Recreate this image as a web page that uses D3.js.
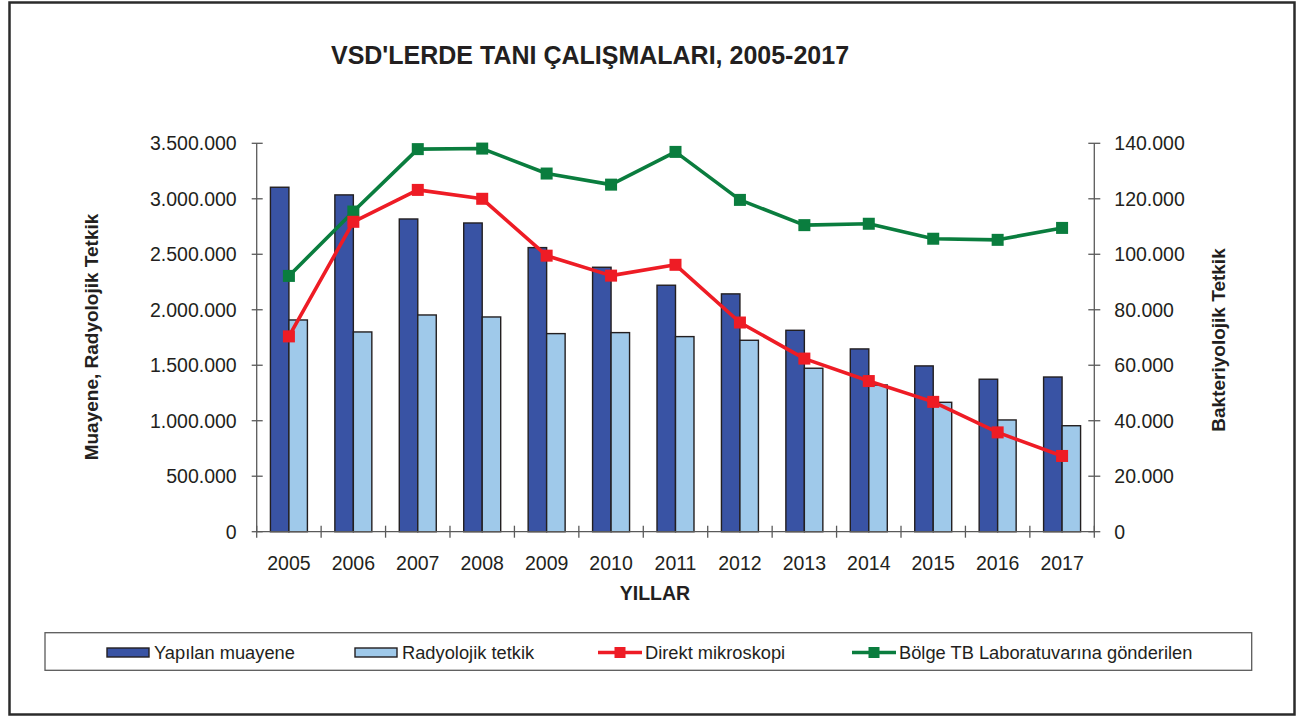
<!DOCTYPE html>
<html>
<head>
<meta charset="utf-8">
<script src="https://cdn.jsdelivr.net/npm/d3@7"></script>
<style>
  body { margin: 0; background: #fff; }
  text { font-family: "Liberation Sans", Arial, sans-serif; fill: #231f20; }
</style>
</head>
<body>
<div id="chart"></div>
<script>
// data
var years = ["2005", "2006", "2007", "2008", "2009", "2010", "2011", "2012", "2013", "2014", "2015", "2016", "2017"];
var muayene = [3104000, 3035000, 2818000, 2782000, 2560000, 2383000, 2221000, 2143000, 1815000, 1647000, 1494000, 1374000, 1394000];
var radyolojik = [1908000, 1800000, 1953000, 1935000, 1785000, 1794000, 1758000, 1725000, 1473000, 1322000, 1166000, 1007000, 955000];
var mikroskopi = [70400, 111700, 123200, 120000, 99500, 92300, 96200, 75400, 62400, 54300, 46800, 35800, 27300];
var bolge = [92200, 115400, 137900, 138100, 129100, 125100, 136900, 119600, 110500, 111000, 105600, 105200, 109500];

var leftTicks = [0, 500000, 1000000, 1500000, 2000000, 2500000, 3000000, 3500000];
var rightTicks = [0, 20000, 40000, 60000, 80000, 100000, 120000, 140000];

var barSeries = ["Yapılan muayene", "Radyolojik tetkik"];
var barColors = ["#3953a4", "#9fc9ea"];
var lineColors = { mikroskopi: "#ee1c25", bolge: "#0a7d3e" };

function fmt(v) {
    // 3500000 -> 3.500.000
    return String(v).replace(/\B(?=(\d{3})+(?!\d))/g, ".");
}

var W = 1302, H = 717;
// plot area (window.top is reserved, so other names)
var plotL = 256.7, plotR = 1094.3, plotT = 143.3, plotB = 531.7;

var svg = d3.select("#chart").append("svg")
    .attr("width", W)
    .attr("height", H);

svg.append("rect")
    .attr("x", 9.5).attr("y", 2.5)
    .attr("width", 1285).attr("height", 712)
    .attr("fill", "#fff")
    .attr("stroke", "#2b2b2b")
    .attr("stroke-width", 2.5);

svg.append("text")
    .attr("x", 590).attr("y", 64)
    .attr("text-anchor", "middle")
    .style("font-weight", "bold")
    .style("font-size", "25px")
    .text("VSD'LERDE TANI ÇALIŞMALARI, 2005-2017");

// scales
var x0 = d3.scaleBand()
    .domain(years)
    .range([plotL, plotR])
    .paddingInner(0.426)
    .paddingOuter(0.213);

var x1 = d3.scaleBand()
    .domain(barSeries)
    .range([0, x0.bandwidth()]);

var yL = d3.scaleLinear().domain([0, 3500000]).range([plotB, plotT]);
var yR = d3.scaleLinear().domain([0, 140000]).range([plotB, plotT]);

var axisColor = "#5a5a5a";

// bars
var groups = svg.append("g").selectAll("g")
    .data(years)
    .enter()
    .append("g")
    .attr("transform", function (d) { return "translate(" + x0(d) + ",0)"; });

groups.selectAll("rect")
    .data(function (d, i) {
        return [
            { key: barSeries[0], value: muayene[i], color: barColors[0] },
            { key: barSeries[1], value: radyolojik[i], color: barColors[1] }
        ];
    })
    .enter()
    .append("rect")
    .attr("x", function (d) { return x1(d.key); })
    .attr("y", function (d) { return yL(d.value); })
    .attr("width", x1.bandwidth())
    .attr("height", function (d) { return yL(0) - yL(d.value); })
    .attr("fill", function (d) { return d.color; })
    .attr("stroke", "#231f20")
    .attr("stroke-width", 1.4);

// left axis
var gL = svg.append("g").attr("transform", "translate(" + plotL + ",0)");
gL.append("line")
    .attr("y1", plotT).attr("y2", plotB)
    .attr("stroke", axisColor).attr("stroke-width", 1.3);
gL.selectAll(".tk")
    .data(leftTicks)
    .enter()
    .append("line")
    .attr("x1", -5).attr("x2", 6)
    .attr("y1", function (d) { return yL(d); })
    .attr("y2", function (d) { return yL(d); })
    .attr("stroke", axisColor).attr("stroke-width", 1.3);
gL.selectAll(".lbl")
    .data(leftTicks)
    .enter()
    .append("text")
    .attr("x", -20)
    .attr("y", function (d) { return yL(d); })
    .attr("dy", "0.35em")
    .attr("text-anchor", "end")
    .style("font-size", "19.5px")
    .text(fmt);

// right axis
var gR = svg.append("g").attr("transform", "translate(" + plotR + ",0)");
gR.append("line")
    .attr("y1", plotT).attr("y2", plotB)
    .attr("stroke", axisColor).attr("stroke-width", 1.3);
gR.selectAll(".tk")
    .data(rightTicks)
    .enter()
    .append("line")
    .attr("x1", -6).attr("x2", 6)
    .attr("y1", function (d) { return yR(d); })
    .attr("y2", function (d) { return yR(d); })
    .attr("stroke", axisColor).attr("stroke-width", 1.3);
gR.selectAll(".lbl")
    .data(rightTicks)
    .enter()
    .append("text")
    .attr("x", 20)
    .attr("y", function (d) { return yR(d); })
    .attr("dy", "0.35em")
    .attr("text-anchor", "start")
    .style("font-size", "19.5px")
    .text(fmt);

// bottom axis
var gB = svg.append("g");
gB.append("line")
    .attr("x1", plotL).attr("x2", plotR)
    .attr("y1", plotB).attr("y2", plotB)
    .attr("stroke", axisColor).attr("stroke-width", 1.3);
var bounds = years.map(function (d) { return x0(d) - x0.step() * x0.paddingInner() / 2; });
bounds.push(plotR);
gB.selectAll(".tk")
    .data(bounds)
    .enter()
    .append("line")
    .attr("x1", function (d) { return d; })
    .attr("x2", function (d) { return d; })
    .attr("y1", plotB - 6).attr("y2", plotB + 6)
    .attr("stroke", axisColor).attr("stroke-width", 1.3);
gB.selectAll(".lbl")
    .data(years)
    .enter()
    .append("text")
    .attr("x", function (d) { return x0(d) + x0.bandwidth() / 2; })
    .attr("y", 569.5)
    .attr("text-anchor", "middle")
    .style("font-size", "19.5px")
    .text(function (d) { return d; });

// axis titles
svg.append("text")
    .attr("x", 655).attr("y", 600)
    .attr("text-anchor", "middle")
    .style("font-weight", "bold")
    .style("font-size", "19.5px")
    .text("YILLAR");

svg.append("text")
    .attr("transform", "translate(98,337) rotate(-90)")
    .attr("text-anchor", "middle")
    .style("font-weight", "bold")
    .style("font-size", "19px")
    .text("Muayene, Radyolojik Tetkik");

svg.append("text")
    .attr("transform", "translate(1225,340) rotate(-90)")
    .attr("text-anchor", "middle")
    .style("font-weight", "bold")
    .style("font-size", "19px")
    .text("Bakteriyolojik Tetkik");

// lines
function drawLine(values, color) {
    var cx = function (d, i) { return x0(years[i]) + x0.bandwidth() / 2; };
    var line = d3.line()
        .x(cx)
        .y(function (d) { return yR(d); });
    svg.append("path")
        .datum(values)
        .attr("d", line)
        .attr("fill", "none")
        .attr("stroke", color)
        .attr("stroke-width", 3.6)
        .attr("stroke-linejoin", "round");
    svg.append("g").selectAll("rect")
        .data(values)
        .enter()
        .append("rect")
        .attr("x", function (d, i) { return cx(d, i) - 6; })
        .attr("y", function (d) { return yR(d) - 6; })
        .attr("width", 12).attr("height", 12)
        .attr("fill", color);
}
drawLine(bolge, lineColors.bolge);
drawLine(mikroskopi, lineColors.mikroskopi);

// legend
var lg = svg.append("g");
lg.append("rect")
    .attr("x", 45).attr("y", 632.7)
    .attr("width", 1206.7).attr("height", 37.6)
    .attr("fill", "#fff")
    .attr("stroke", "#5a5a5a")
    .attr("stroke-width", 1.3);

var legendItems = [
    { label: barSeries[0], type: "bar", color: barColors[0], x: 107 },
    { label: barSeries[1], type: "bar", color: barColors[1], x: 355 },
    { label: "Direkt mikroskopi", type: "line", color: lineColors.mikroskopi, x: 598 },
    { label: "Bölge TB Laboratuvarına gönderilen", type: "line", color: lineColors.bolge, x: 852 }
];
var ly = 652.5;
legendItems.forEach(function (it) {
    if (it.type == "bar") {
        lg.append("rect")
            .attr("x", it.x).attr("y", ly - 4.5)
            .attr("width", 42).attr("height", 9)
            .attr("fill", it.color)
            .attr("stroke", "#231f20").attr("stroke-width", 1.4);
    } else {
        lg.append("line")
            .attr("x1", it.x).attr("x2", it.x + 44)
            .attr("y1", ly).attr("y2", ly)
            .attr("stroke", it.color).attr("stroke-width", 3.6);
        lg.append("rect")
            .attr("x", it.x + 22 - 5.5).attr("y", ly - 5.5)
            .attr("width", 11).attr("height", 11)
            .attr("fill", it.color);
    }
    lg.append("text")
        .attr("x", it.x + 47)
        .attr("y", ly)
        .attr("dy", "0.35em")
        .style("font-size", "18.3px")
        .text(it.label);
});
</script>
</body>
</html>
